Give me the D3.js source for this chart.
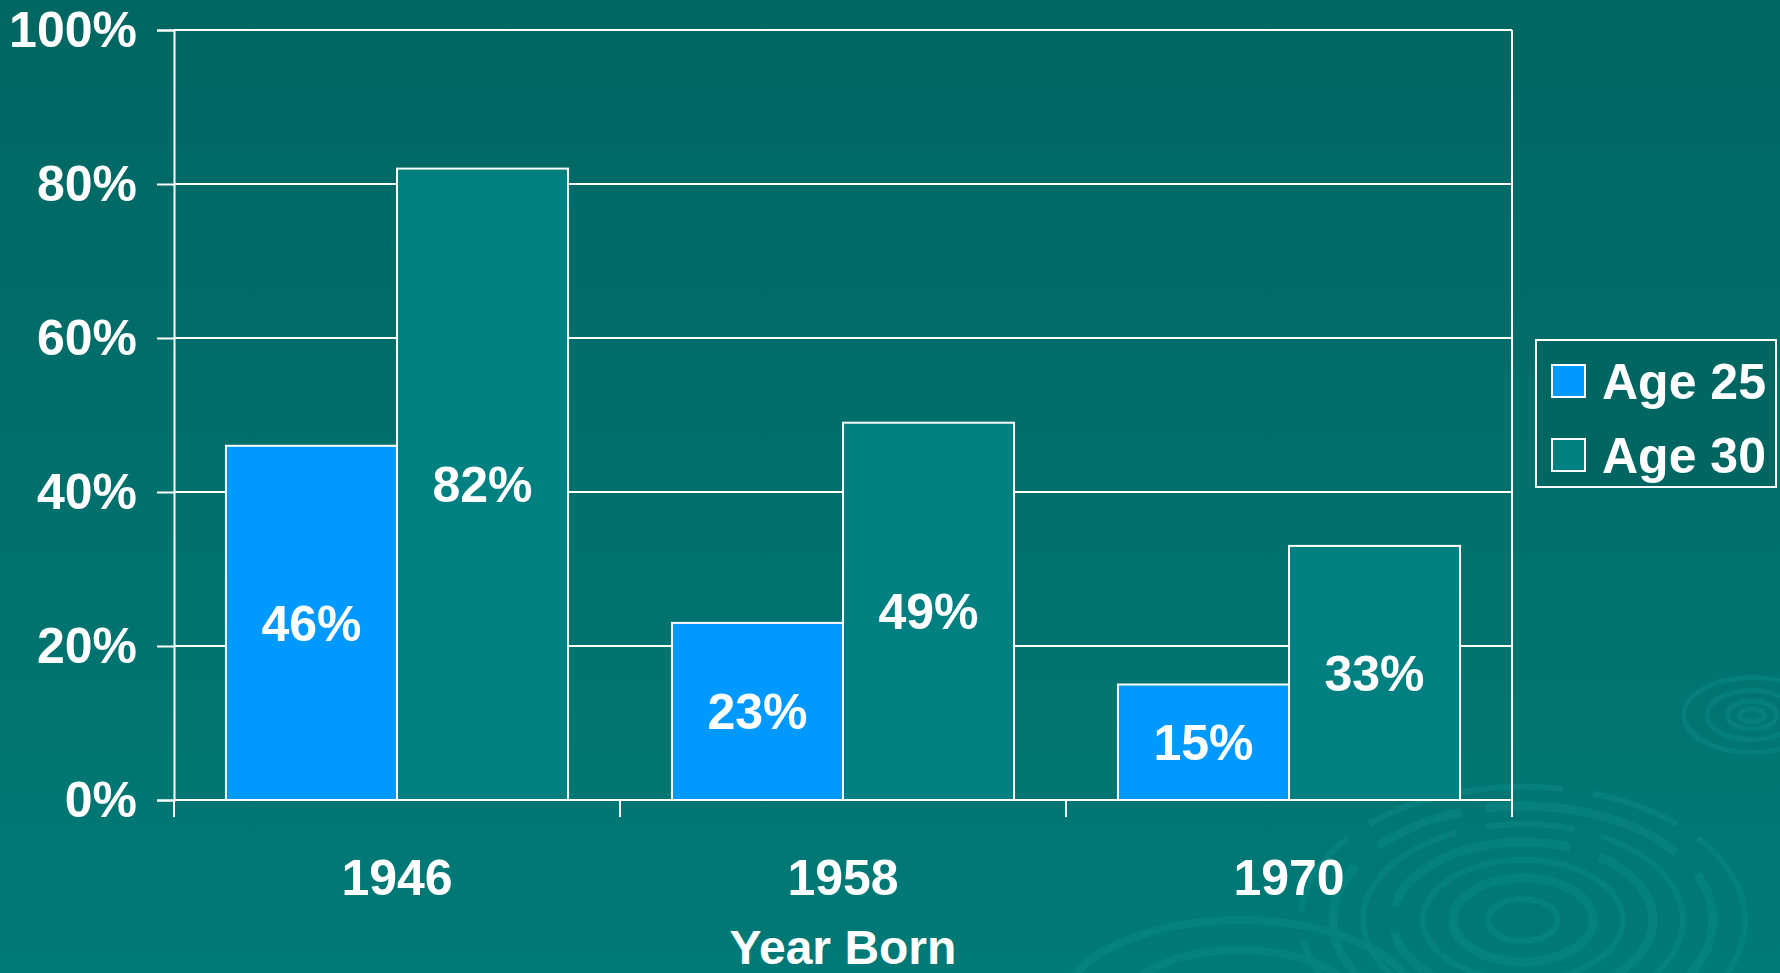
<!DOCTYPE html>
<html>
<head>
<meta charset="utf-8">
<script src="https://cdn.jsdelivr.net/npm/d3@7"></script>
<style>
  html, body { margin: 0; padding: 0; overflow: hidden; }
  svg { display: block; font-family: "Liberation Sans", Arial, sans-serif; font-weight: bold; }
</style>
</head>
<body>
<svg id="chart" width="1780" height="973"></svg>
<script>
// chart data
const years = ["1946", "1958", "1970"];
const seriesNames = ["Age 25", "Age 30"];
const age25 = [46, 23, 15];
const age30 = [82, 49, 33];
const yTicks = [0, 20, 40, 60, 80, 100];
const seriesColors = ["#0099ff", "#008080"];

const W = 1780, H = 973;
const plot = { left: 174, right: 1512, top: 30, bottom: 800 };

const svg = d3.select('#chart');

// background gradient
const defs = svg.append('defs');
const grad = defs.append('linearGradient')
  .attr('id', 'bg').attr('x1', 0).attr('y1', 0).attr('x2', 0).attr('y2', 1);
grad.append('stop').attr('offset', '0%').attr('stop-color', '#006662');
grad.append('stop').attr('offset', '100%').attr('stop-color', '#007a77');
svg.append('rect').attr('width', W).attr('height', H).attr('fill', 'url(#bg)');

// faint ripples (background decoration)
const ripples = svg.append('g').attr('fill', 'none').attr('stroke', '#0a8a86').attr('opacity', 0.5);
[35, 70, 100, 130, 160, 190, 222].forEach((r, i) => {
  ripples.append('ellipse')
    .attr('cx', 1523).attr('cy', 920)
    .attr('rx', r).attr('ry', r * 0.6)
    .attr('stroke-width', i % 2 ? 9 : 6)
    .attr('stroke-dasharray', i > 2 ? '200 30 90 25' : null);
});
[12, 25, 45, 68].forEach(r => {
  ripples.append('ellipse')
    .attr('cx', 1752).attr('cy', 715)
    .attr('rx', r).attr('ry', r * 0.55)
    .attr('stroke-width', 5);
});
[120, 180].forEach(r => {
  ripples.append('ellipse')
    .attr('cx', 1240).attr('cy', 1010)
    .attr('rx', r).attr('ry', r * 0.5)
    .attr('stroke-width', 8);
});

const rows = years.map((y, i) => ({ year: y, values: [age25[i], age30[i]] }));

const x0 = d3.scaleBand()
  .domain(years)
  .range([plot.left, plot.right])
  .paddingInner(0.233)
  .paddingOuter(0.1165);

const x1 = d3.scaleBand()
  .domain(seriesNames)
  .range([0, x0.bandwidth()]);

const y = d3.scaleLinear()
  .domain([0, 100])
  .range([plot.bottom, plot.top]);

// gridlines
svg.append('g').selectAll('line')
  .data(yTicks)
  .enter().append('line')
  .attr('x1', plot.left).attr('x2', plot.right)
  .attr('y1', d => y(d)).attr('y2', d => y(d))
  .attr('stroke', '#fff').attr('stroke-width', 2);

// right border of plot area
svg.append('line')
  .attr('x1', plot.right).attr('x2', plot.right)
  .attr('y1', plot.top).attr('y2', plot.bottom)
  .attr('stroke', '#fff').attr('stroke-width', 2);

// bars
const groups = svg.append('g').selectAll('g')
  .data(rows)
  .enter().append('g')
  .attr('transform', d => `translate(${x0(d.year)},0)`);

groups.selectAll('rect')
  .data(d => d.values.map((v, k) => ({ key: seriesNames[k], k, v })))
  .enter().append('rect')
  .attr('x', d => x1(d.key))
  .attr('y', d => y(d.v))
  .attr('width', x1.bandwidth())
  .attr('height', d => y(0) - y(d.v))
  .attr('fill', d => seriesColors[d.k])
  .attr('stroke', '#fff').attr('stroke-width', 2);

groups.selectAll('text')
  .data(d => d.values.map((v, k) => ({ key: seriesNames[k], k, v })))
  .enter().append('text')
  .attr('x', d => x1(d.key) + x1.bandwidth() / 2)
  .attr('y', d => (y(d.v) + y(0)) / 2)
  .attr('dy', '0.36em')
  .attr('text-anchor', 'middle')
  .attr('font-size', 50)
  .attr('fill', '#fff')
  .text(d => d.v + '%');

// y axis
const yAxis = d3.axisLeft(y)
  .tickValues(yTicks)
  .tickSize(17)
  .tickPadding(20)
  .tickFormat(d => d + '%');

const gy = svg.append('g')
  .attr('transform', `translate(${plot.left},0)`)
  .call(yAxis);
gy.select('.domain').attr('stroke', '#fff').attr('stroke-width', 2);
gy.selectAll('.tick line').attr('stroke', '#fff').attr('stroke-width', 2);
gy.selectAll('.tick text')
  .attr('fill', '#fff')
  .attr('font-size', 50)
  .attr('font-family', '"Liberation Sans", Arial, sans-serif')
  .attr('font-weight', 'bold');

// x axis: ticks sit on the category boundaries
const boundary = d3.scaleLinear().domain([0, years.length]).range([plot.left, plot.right]);
const gx = svg.append('g');
gx.append('line')
  .attr('x1', plot.left).attr('x2', plot.right)
  .attr('y1', plot.bottom).attr('y2', plot.bottom)
  .attr('stroke', '#fff').attr('stroke-width', 2);
gx.selectAll('.btick')
  .data(d3.range(years.length + 1))
  .enter().append('line')
  .attr('class', 'btick')
  .attr('x1', d => boundary(d)).attr('x2', d => boundary(d))
  .attr('y1', plot.bottom).attr('y2', plot.bottom + 17)
  .attr('stroke', '#fff').attr('stroke-width', 2);
gx.selectAll('.ylab')
  .data(years)
  .enter().append('text')
  .attr('x', d => x0(d) + x0.bandwidth() / 2)
  .attr('y', 877)
  .attr('dy', '0.36em')
  .attr('text-anchor', 'middle')
  .attr('font-size', 50)
  .attr('fill', '#fff')
  .text(d => d);

// axis title (sits at the very bottom edge, as in the slide)
svg.append('text')
  .attr('x', (plot.left + plot.right) / 2)
  .attr('y', 964)
  .attr('text-anchor', 'middle')
  .attr('font-size', 48)
  .attr('fill', '#fff')
  .text('Year Born');

// legend
const legend = svg.append('g');
legend.append('rect')
  .attr('x', 1536).attr('y', 340)
  .attr('width', 240).attr('height', 147)
  .attr('fill', '#006662')
  .attr('stroke', '#fff').attr('stroke-width', 2);
const items = legend.selectAll('.item')
  .data(seriesNames)
  .enter().append('g')
  .attr('class', 'item')
  .attr('transform', (d, i) => `translate(1552,${365 + i * 74})`);
items.append('rect')
  .attr('width', 33).attr('height', 32)
  .attr('fill', (d, i) => seriesColors[i])
  .attr('stroke', '#fff').attr('stroke-width', 2);
items.append('text')
  .attr('x', 50).attr('y', 16)
  .attr('dy', '0.36em')
  .attr('font-size', 50)
  .attr('fill', '#fff')
  .text(d => d);
</script>
</body>
</html>
